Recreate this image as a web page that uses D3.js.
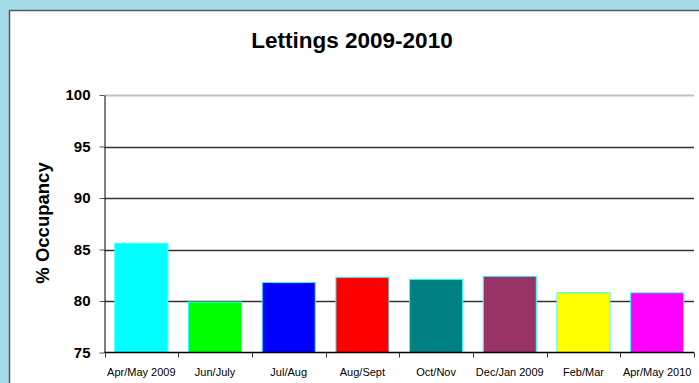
<!DOCTYPE html>
<html>
<head>
<meta charset="utf-8">
<script src="https://cdn.jsdelivr.net/npm/d3@7"></script>
<style>
  html, body { margin: 0; padding: 0; background: #a4dbe8; }
  svg { display: block; font-family: "Liberation Sans", Arial, sans-serif; }
</style>
</head>
<body>
<div id="chart"></div>
<script>
// datos
const periods = ['Apr/May 2009', 'Jun/July', 'Jul/Aug', 'Aug/Sept', 'Oct/Nov', 'Dec/Jan 2009', 'Feb/Mar', 'Apr/May 2010'];
const occupancy = [85.6, 79.9, 81.8, 82.3, 82.1, 82.4, 80.8, 80.8];
const barColors = ['#00ffff', '#00ff00', '#0000ff', '#ff0000', '#008080', '#993366', '#ffff00', '#ff00ff'];
const yTicks = [75, 80, 85, 90, 95, 100];

const width = 699, height = 383;
const margin = {left: 104.5, right: 5, top: 95, bottom: 30.5};

const svg = d3.select('#chart')
    .append('svg')
    .attr('width', width)
    .attr('height', height);

// panel blanco
svg.append('rect')
    .attr('x', 9.5).attr('y', 10.5)
    .attr('width', width).attr('height', height)
    .attr('fill', '#fff')
    .attr('stroke', '#5a5a5a')
    .attr('stroke-width', 1.5);

let x = d3.scaleBand()
    .domain(periods)
    .range([margin.left, width - margin.right])
    .paddingInner(0.28)
    .paddingOuter(0.14);

let y = d3.scaleLinear()
    .domain([75, 100])
    .range([height - margin.bottom, margin.top]);

// titulo
svg.append('text')
    .attr('x', 352)
    .attr('y', 48)
    .attr('text-anchor', 'middle')
    .attr('font-size', 22.5)
    .attr('font-weight', 'bold')
    .text('Lettings 2009-2010');

// rejilla
svg.append('g')
    .selectAll('line')
    .data(yTicks.filter(d => d > 75))
    .enter()
    .append('line')
    .attr('x1', margin.left)
    .attr('x2', width - margin.right)
    .attr('y1', d => Math.round(y(d)) + 0.5)
    .attr('y2', d => Math.round(y(d)) + 0.5)
    .attr('stroke', d => d === 100 ? '#c0c0c0' : '#333')
    .attr('stroke-width', d => d === 100 ? 2 : 1.3);

// barras
svg.append('g')
    .selectAll('rect')
    .data(occupancy)
    .enter()
    .append('rect')
    .attr('x', (d, i) => x(periods[i]))
    .attr('width', x.bandwidth())
    .attr('y', d => y(d))
    .attr('height', d => y(75) - y(d))
    .attr('fill', (d, i) => barColors[i])
    .attr('stroke', '#33ffff')
    .attr('stroke-width', 1);

// eje y
const yAxis = svg.append('g')
    .attr('transform', 'translate(' + margin.left + ',0)')
    .call(d3.axisLeft(y).tickValues(yTicks).tickSize(5).tickPadding(9).tickSizeOuter(0));
yAxis.select('.domain').attr('stroke', '#000');
yAxis.selectAll('.tick line').attr('stroke', '#555');
yAxis.selectAll('text')
    .attr('font-size', 15)
    .attr('font-weight', 'bold')
    .attr('font-family', '"Liberation Sans", Arial, sans-serif')
    .attr('fill', '#000');

// eje x
const bounds = periods.map(p => x(p) - x.step() * x.paddingInner() / 2)
    .concat([width - margin.right]);
const xAxisG = svg.append('g');
xAxisG.append('line')
    .attr('x1', margin.left).attr('x2', width - margin.right)
    .attr('y1', y(75)).attr('y2', y(75))
    .attr('stroke', '#000').attr('stroke-width', 1.5);
xAxisG.selectAll('.xt')
    .data(bounds)
    .enter()
    .append('line')
    .attr('class', 'xt')
    .attr('x1', d => Math.round(d) + 0.5).attr('x2', d => Math.round(d) + 0.5)
    .attr('y1', y(75)).attr('y2', y(75) + 5)
    .attr('stroke', '#333');
xAxisG.selectAll('.xl')
    .data(periods)
    .enter()
    .append('text')
    .attr('class', 'xl')
    .attr('x', d => x(d) + x.bandwidth() / 2)
    .attr('y', 376)
    .attr('text-anchor', 'middle')
    .attr('font-size', 11)
    .text(d => d);

// titulo eje y
svg.append('text')
    .attr('transform', 'translate(49,223) rotate(-90)')
    .attr('text-anchor', 'middle')
    .attr('font-size', 18.5)
    .attr('font-weight', 'bold')
    .text('% Occupancy');
</script>
</body>
</html>
